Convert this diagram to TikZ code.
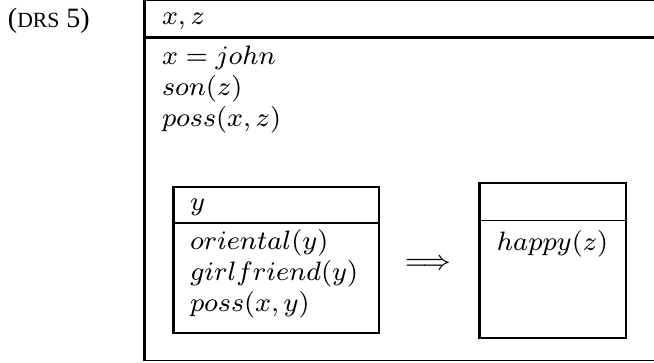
\documentclass[tikz,border=0pt]{standalone}
\usepackage{fontspec}
\newfontfamily\labelfont{Liberation Serif}
\begin{document}
\begin{tikzpicture}[x=0.3pt,y=-0.3pt,
  thickline/.style={line width=0.9pt},
  medline/.style={line width=0.6pt},
  thinline/.style={line width=0.4pt},
  txt/.style={anchor=base west,inner sep=0pt,outer sep=0pt,font=\fontsize{8.1}{10}\selectfont},
  ctxt/.style={anchor=base,inner sep=0pt,outer sep=0pt,font=\fontsize{8.1}{10}\selectfont}]
\useasboundingbox (0,0) rectangle (654,362);
% outer box
\draw[thinline] (144.5,0.7) -- (660,0.7);
\draw[thickline] (144.5,0) -- (144.5,360.6);
\draw[thinline] (144.5,360.6) -- (660,360.6);
\draw[thickline] (144.5,37) -- (660,37);
% left inner box
\draw[medline] (173,187) rectangle (378.5,333);
\draw[thickline] (173,186.5) -- (173,333.5);
\draw[thinline] (173,223) -- (378.5,223);
% right box
\draw[medline] (479,183) rectangle (626,338);
\draw[thickline] (479,182.5) -- (479,338.5);
\draw[thinline] (479,220.5) -- (626,220.5);
% label
\node[anchor=base west,inner sep=0pt,outer sep=0pt] (lbl) at (8,27) {\labelfont\fontsize{8.4}{10}\selectfont ({\fontsize{6.5}{8}\selectfont DRS} 5)};
% outer texts
\node[txt] (univ) at (162,24) {$x,z$};
\node[txt] (c1) at (162,64) {$x=john$};
\node[txt] (c2) at (162,95) {$son(z)$};
\node[txt] (c3) at (162,126) {$poss(x,z)$};
% left inner texts
\node[txt] (luniv) at (190,210) {$y$};
\node[txt] (l1) at (190,249) {$oriental(y)$};
\node[txt] (l2) at (190,280) {$girlfriend(y)$};
\node[txt] (l3) at (190,311) {$poss(x,y)$};
% arrow
\node[ctxt] (arr) at (428,269) {$\Longrightarrow$};
% right texts
\node[ctxt] (r1) at (552.5,250) {$happy(z)$};
\end{tikzpicture}
\end{document}
